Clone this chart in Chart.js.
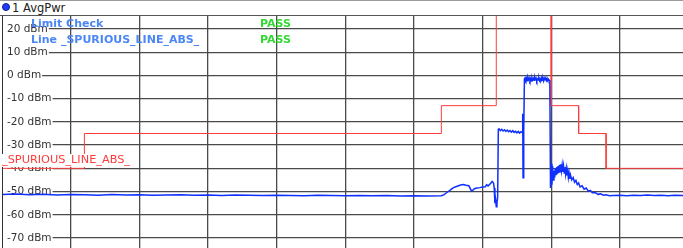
<!DOCTYPE html>
<html>
<head>
<meta charset="utf-8">
<script src="https://cdn.jsdelivr.net/npm/chart.js@4"></script>
<style>
  body { margin: 0; width: 683px; height: 248px; overflow: hidden; background: #fff; position: relative; font-family: "DejaVu Sans", Verdana, sans-serif; }
  #grafico { position: absolute; left: 0; top: 0; }
  .titulo { position: absolute; left: 0; top: 0; width: 683px; height: 14px; border-top: 1px solid #9a9a9a; border-bottom: 1px solid #555; background: #fff; }
  .punto { position: absolute; left: 2px; top: 2px; width: 8px; height: 8px; border-radius: 50%; background: #1f3cff; border: 1px solid #10208a; box-sizing: border-box; }
  .titulo span { position: absolute; left: 12px; top: 0; font-size: 11.5px; line-height: 14px; color: #222; }
  .borde { position: absolute; left: 2px; top: 16px; width: 1px; height: 232px; background: #333; }
  .texto { position: absolute; font-size: 11px; line-height: 13px; font-weight: bold; white-space: pre; }
  .azul { color: #4a86f6; }
  .verde { color: #34d934; }
  .rojo { position: absolute; left: 2px; top: 154px; height: 13px; font-size: 11.3px; line-height: 12px; color: #ff3b3b; background: #fff; white-space: pre; }
</style>
</head>
<body>
<canvas id="grafico" width="683" height="248"></canvas>
<div class="titulo"><div class="punto"></div><span>1 AvgPwr</span></div>
<div class="borde"></div>
<div class="texto azul" style="left:31px; top:17px;">Limit Check</div>
<div class="texto azul" style="left:31px; top:33px;">Line _SPURIOUS_LINE_ABS_</div>
<div class="texto verde" style="left:260px; top:17px;">PASS</div>
<div class="texto verde" style="left:260px; top:33px;">PASS</div>
<div class="rojo">_SPURIOUS_LINE_ABS_</div>
<script>
// Escala Y (dBm) y divisiones X
const nivelesY = [20, 10, 0, -10, -20, -30, -40, -50, -60, -70];
const divisionesX = [100, 200, 300, 400, 500, 600, 700, 800, 900];

// Línea límite (escalones)
const limiteX = [0, 120, 120, 640, 640, 720, 720, 800, 800, 840, 840, 880, 880, 992];
const limiteY = [-40, -40, -25, -25, -13, -13, 40, 40, -13, -13, -25, -25, -40, -40];

// Traza medida
const trazaX = [
  0, 20, 40, 60, 80, 100, 120, 140, 160, 180, 200, 220, 240, 260, 280, 300, 320, 340, 360, 380,
  400, 420, 440, 460, 480, 500, 520, 540, 560, 580, 600, 620, 640,
  644, 648, 652, 656, 660, 664, 668, 672, 676, 680, 682, 684, 686, 688, 692, 696, 700, 704, 706,
  708, 710, 712, 714, 716, 717, 718, 719, 720, 721, 722, 723,
  724, 726, 728, 730, 732, 734, 736, 738, 740, 742, 744, 746, 748, 750, 752, 754, 756, 758,
  758.5, 759, 760, 761,
  762, 763, 764, 765, 766, 767, 768, 769, 770, 771, 772, 773, 774, 775, 776, 777, 778, 779,
  780, 781, 782, 783, 784, 785, 786, 787, 788, 789, 790, 791, 792, 793, 794, 795, 796, 797,
  798, 799, 800, 801, 802, 803, 804, 805, 806, 807, 808, 809, 810, 811, 812, 813, 814, 815,
  816, 817, 818, 819, 820, 821, 822, 823, 824, 825, 826, 827, 828, 830, 832, 834, 836, 838,
  840, 842, 845, 848, 851, 854, 857, 860, 864, 868, 872, 876, 880, 885, 890, 900, 910, 920,
  930, 940, 950, 960, 970, 980, 992
];
const trazaY = [
  -51.3, -51.0, -51.4, -51.2, -51.5, -51.3, -51.4, -51.6, -51.3, -51.5, -51.4, -51.6, -51.5, -51.4, -51.6, -51.5, -51.7, -51.5, -51.6, -51.7,
  -51.6, -51.7, -51.8, -51.6, -51.7, -51.8, -51.7, -51.8, -51.7, -51.9, -51.8, -51.9, -51.8,
  -51.3, -50.4, -49.6, -48.6, -48.0, -47.6, -47.2, -47.0, -47.3, -47.5, -48.6, -49.8, -49.4, -48.8, -48.5, -48.3, -48.0, -47.9, -47.0,
  -47.6, -47.0, -46.4, -45.6, -46.3, -48.5, -55.0, -53.5, -56.5, -54.5, -52.5, -23.2,
  -23.0, -23.8, -23.2, -23.9, -23.4, -24.1, -23.5, -24.2, -23.7, -24.4, -23.8, -24.5, -24.0, -24.7, -24.1, -24.8, -24.2, -24.6,
  -16.5, -44.0, -24.0, -1.5,
  -1.0, -2.0, -1.2, -2.3, -0.9, -1.8, -1.1, -2.2, -1.4, -2.4, -1.0, -1.9, -1.3, -2.1, -0.8, -1.7, -1.2, -2.3,
  -1.5, -2.0, -1.1, -2.2, -1.4, -1.9, -1.0, -2.1, -1.3, -2.4, -1.2, -1.8, -1.5, -2.2, -1.2, -2.0, -1.6, -2.1,
  -2.0, -48.5, -38.0, -47.0, -39.0, -45.0, -41.0, -44.0, -40.0, -43.0, -39.5, -42.5, -39.0, -42.0, -38.5, -41.5, -38.2, -41.0,
  -38.5, -41.5, -39.0, -42.0, -39.5, -42.5, -40.0, -43.0, -41.0, -44.0, -42.0, -44.5, -42.8, -45.0, -44.0, -46.0, -45.2, -47.0,
  -46.3, -48.0, -47.5, -49.0, -48.5, -49.8, -49.5, -50.5, -50.4, -51.2, -51.0, -51.6, -51.4, -51.8, -51.7, -51.6, -51.8, -51.6,
  -51.7, -51.5, -51.7, -51.6, -51.8, -51.6, -51.7
];

const puntos = (xs, ys) => xs.map((x, i) => ({ x, y: ys[i] }));

// Quitar todo el espacio que las escalas reservan
function sinEspacio(s) {
  if (s.isHorizontal()) s.height = 0; else s.width = 0;
  s.paddingTop = 0;
  s.paddingBottom = 0;
  s.paddingLeft = 0;
  s.paddingRight = 0;
}

const ctx = document.getElementById("grafico").getContext("2d");
new Chart(ctx, {
  type: "line",
  data: {
    datasets: [
      {
        label: "Traza",
        data: puntos(trazaX, trazaY),
        borderColor: "#1030ff",
        borderWidth: 1.5,
        pointRadius: 0,
        tension: 0,
      },
      {
        label: "Limite",
        data: puntos(limiteX, limiteY),
        borderColor: "rgb(255, 60, 60)",
        borderWidth: 1,
        pointRadius: 0,
        tension: 0,
      },
    ],
  },
  options: {
    responsive: false,
    animation: false,
    events: [],
    layout: { padding: { left: 2, top: 16, right: 0, bottom: 0 } },
    plugins: { legend: { display: false }, tooltip: { enabled: false } },
    scales: {
      x: {
        type: "linear",
        min: 0,
        max: 992,
        afterBuildTicks: (s) => { s.ticks = divisionesX.map(v => ({ value: v })); },
        afterFit: sinEspacio,
        ticks: { display: false },
        grid: { color: "#4a4a4a", lineWidth: 1.3, drawTicks: false },
        border: { display: false },
      },
      y: {
        min: -74.3,
        max: 25.6,
        afterBuildTicks: (s) => { s.ticks = nivelesY.map(v => ({ value: v })); },
        afterFit: sinEspacio,
        ticks: {
          mirror: true,
          padding: 5,
          color: "#333",
          font: { family: "DejaVu Sans", size: 10.5 },
          callback: (v) => v + " dBm",
          showLabelBackdrop: true,
          backdropColor: "#fff",
          backdropPadding: { left: 5, right: 1, top: 1, bottom: 1 },
        },
        grid: { color: "#4a4a4a", lineWidth: 1.3, drawTicks: false },
        border: { display: false },
      },
    },
  },
});
</script>
</body>
</html>
